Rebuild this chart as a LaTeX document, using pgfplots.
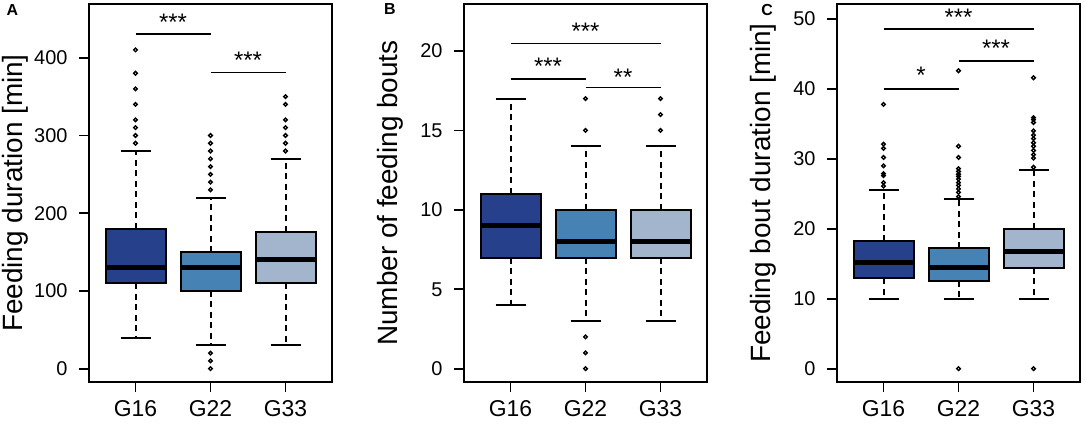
\documentclass[border=0pt]{standalone}
\usepackage{fontspec}
\setmainfont{Liberation Sans}
\usepackage{pgfplots}
\pgfplotsset{compat=1.18}
\definecolor{cA}{RGB}{39,64,139}
\definecolor{cB}{RGB}{70,130,180}
\definecolor{cC}{RGB}{162,181,205}
\pgfplotsset{
  panel/.style={
    scale only axis, width=243bp, height=378bp,
    xmin=0.38, xmax=3.62,
    xtick={1,2,3}, xticklabels={G16,G22,G33},
    tick align=outside, tick pos=left, major tick length=10bp,
    every tick/.style={black, line width=1.8bp},
    axis line style={line width=1.8bp},
    clip=false,
    /pgf/number format/assume math mode=true,
    yticklabel style={font=\fontsize{20}{24}\selectfont, xshift=-8bp},
    xticklabel style={font=\fontsize{23}{27}\selectfont, yshift=-5bp},
    ylabel style={font=\fontsize{28}{32}\selectfont, at={(axis description cs:-0.305,0.5)}, anchor=center},
  },
  bxf/.style={fill=#1, draw=black, line width=2bp, no marks},
  med/.style={black, line width=5bp, no marks},
  wh/.style={black, line width=2bp, dash pattern=on 6bp off 4.5bp, no marks},
  cap/.style={black, line width=2bp, no marks},
  out/.style={only marks, mark=o, mark size=1.8bp, mark options={solid, black, line width=1.4bp}},
  sig/.style={black, line width=1.8bp, no marks},
}
\newcommand{\stars}[1]{\fontsize{24}{24}\selectfont #1}
\begin{document}
\begin{tikzpicture}
\useasboundingbox (0,0) rectangle (1084bp,425bp);
% ---------------- Panel A
\begin{axis}[panel, at={(89bp,43bp)}, anchor=south west,
  ymin=-17.1, ymax=469.1, ytick={0,100,200,300,400},
  ylabel={Feeding duration [min]}]
% G16
\addplot[bxf=cA] coordinates {(0.6,110) (1.4,110) (1.4,180) (0.6,180)} -- cycle;
\addplot[med] coordinates {(0.6,130) (1.4,130)};
\addplot[wh] coordinates {(1,180) (1,280)};
\addplot[wh] coordinates {(1,110) (1,40)};
\addplot[cap] coordinates {(0.8,280) (1.2,280)};
\addplot[cap] coordinates {(0.8,40) (1.2,40)};
\addplot[out] coordinates {(1,290) (1,300) (1,310) (1,320) (1,340) (1,360) (1,380) (1,410)};
% G22
\addplot[bxf=cB] coordinates {(1.6,100) (2.4,100) (2.4,150) (1.6,150)} -- cycle;
\addplot[med] coordinates {(1.6,130) (2.4,130)};
\addplot[wh] coordinates {(2,150) (2,220)};
\addplot[wh] coordinates {(2,100) (2,30)};
\addplot[cap] coordinates {(1.8,220) (2.2,220)};
\addplot[cap] coordinates {(1.8,30) (2.2,30)};
\addplot[out] coordinates {(2,0) (2,10) (2,20) (2,230) (2,240) (2,250) (2,260) (2,270) (2,280) (2,290) (2,300)};
% G33
\addplot[bxf=cC] coordinates {(2.6,110) (3.4,110) (3.4,176) (2.6,176)} -- cycle;
\addplot[med] coordinates {(2.6,140) (3.4,140)};
\addplot[wh] coordinates {(3,176) (3,270)};
\addplot[wh] coordinates {(3,110) (3,30)};
\addplot[cap] coordinates {(2.8,270) (3.2,270)};
\addplot[cap] coordinates {(2.8,30) (3.2,30)};
\addplot[out] coordinates {(3,280) (3,290) (3,300) (3,310) (3,320) (3,340) (3,350)};
% significance
\addplot[sig] coordinates {(1,430) (2,430)};
\addplot[sig] coordinates {(2,381) (3,381)};
\node[anchor=north, inner sep=0pt] at (axis cs:1.5,457) {\stars{***}};
\node[anchor=north, inner sep=0pt] at (axis cs:2.5,407.7) {\stars{***}};
\end{axis}
% ---------------- Panel B
\begin{axis}[panel, at={(464bp,43bp)}, anchor=south west,
  ymin=-0.837, ymax=22.96, ytick={0,5,10,15,20},
  ylabel={Number of feeding bouts}]
% G16
\addplot[bxf=cA] coordinates {(0.6,7) (1.4,7) (1.4,11) (0.6,11)} -- cycle;
\addplot[med] coordinates {(0.6,9) (1.4,9)};
\addplot[wh] coordinates {(1,11) (1,17)};
\addplot[wh] coordinates {(1,7) (1,4)};
\addplot[cap] coordinates {(0.8,17) (1.2,17)};
\addplot[cap] coordinates {(0.8,4) (1.2,4)};
% G22
\addplot[bxf=cB] coordinates {(1.6,7) (2.4,7) (2.4,10) (1.6,10)} -- cycle;
\addplot[med] coordinates {(1.6,8) (2.4,8)};
\addplot[wh] coordinates {(2,10) (2,14)};
\addplot[wh] coordinates {(2,7) (2,3)};
\addplot[cap] coordinates {(1.8,14) (2.2,14)};
\addplot[cap] coordinates {(1.8,3) (2.2,3)};
\addplot[out] coordinates {(2,0) (2,1) (2,2) (2,15) (2,17)};
% G33
\addplot[bxf=cC] coordinates {(2.6,7) (3.4,7) (3.4,10) (2.6,10)} -- cycle;
\addplot[med] coordinates {(2.6,8) (3.4,8)};
\addplot[wh] coordinates {(3,10) (3,14)};
\addplot[wh] coordinates {(3,7) (3,3)};
\addplot[cap] coordinates {(2.8,14) (3.2,14)};
\addplot[cap] coordinates {(2.8,3) (3.2,3)};
\addplot[out] coordinates {(3,15) (3,16) (3,17)};
% significance
\addplot[sig] coordinates {(1,20.47) (3,20.47)};
\addplot[sig] coordinates {(1,18.24) (2,18.24)};
\addplot[sig] coordinates {(2,17.7) (3,17.7)};
\node[anchor=north, inner sep=0pt] at (axis cs:2,21.75) {\stars{***}};
\node[anchor=north, inner sep=0pt] at (axis cs:1.5,19.55) {\stars{***}};
\node[anchor=north, inner sep=0pt] at (axis cs:2.5,18.9) {\stars{**}};
\end{axis}
% ---------------- Panel C
\begin{axis}[panel, at={(837bp,43bp)}, anchor=south west,
  ymin=-1.9, ymax=52.14, ytick={0,10,20,30,40,50},
  ylabel={Feeding bout duration [min]}]
% G16
\addplot[bxf=cA] coordinates {(0.6,12.9) (1.4,12.9) (1.4,18.2) (0.6,18.2)} -- cycle;
\addplot[med] coordinates {(0.6,15.2) (1.4,15.2)};
\addplot[wh] coordinates {(1,18.2) (1,25.6)};
\addplot[wh] coordinates {(1,12.9) (1,10)};
\addplot[cap] coordinates {(0.8,25.6) (1.2,25.6)};
\addplot[cap] coordinates {(0.8,10) (1.2,10)};
\addplot[out] coordinates {(1,26.1) (1,26.6) (1,27.6) (1,27.9) (1,29.0) (1,30.2) (1,31.5) (1,32.1) (1,37.8)};
% G22
\addplot[bxf=cB] coordinates {(1.6,12.6) (2.4,12.6) (2.4,17.2) (1.6,17.2)} -- cycle;
\addplot[med] coordinates {(1.6,14.5) (2.4,14.5)};
\addplot[wh] coordinates {(2,17.2) (2,24.2)};
\addplot[wh] coordinates {(2,12.6) (2,10)};
\addplot[cap] coordinates {(1.8,24.2) (2.2,24.2)};
\addplot[cap] coordinates {(1.8,10) (2.2,10)};
\addplot[out] coordinates {(2,0) (2,24.6) (2,25.2) (2,25.7) (2,26.2) (2,26.6) (2,27.1) (2,27.5) (2,27.8) (2,28.2) (2,28.6) (2,30.2) (2,31.8) (2,42.6)};
% G33
\addplot[bxf=cC] coordinates {(2.6,14.4) (3.4,14.4) (3.4,20.0) (2.6,20.0)} -- cycle;
\addplot[med] coordinates {(2.6,16.8) (3.4,16.8)};
\addplot[wh] coordinates {(3,20.0) (3,28.4)};
\addplot[wh] coordinates {(3,14.4) (3,10)};
\addplot[cap] coordinates {(2.8,28.4) (3.2,28.4)};
\addplot[cap] coordinates {(2.8,10) (3.2,10)};
\addplot[out] coordinates {(3,0) (3,28.8) (3,30.1) (3,30.6) (3,31.2) (3,31.8) (3,32.3) (3,32.9) (3,33.4) (3,34.0) (3,35.2) (3,35.6) (3,35.9) (3,41.6)};
% significance
\addplot[sig] coordinates {(1,48.57) (3,48.57)};
\addplot[sig] coordinates {(2,44.0) (3,44.0)};
\addplot[sig] coordinates {(1,40.0) (2,40.0)};
\node[anchor=north, inner sep=0pt] at (axis cs:2,51.5) {\stars{***}};
\node[anchor=north, inner sep=0pt] at (axis cs:2.5,47.0) {\stars{***}};
\node[anchor=north, inner sep=0pt] at (axis cs:1.5,43.2) {\stars{*}};
\end{axis}
% panel letters
\node[font=\bfseries\fontsize{16}{16}\selectfont] at (12.5bp,415bp) {A};
\node[font=\bfseries\fontsize{16}{16}\selectfont] at (390bp,416bp) {B};
\node[font=\bfseries\fontsize{16}{16}\selectfont] at (767bp,415bp) {C};
\end{tikzpicture}
\end{document}
